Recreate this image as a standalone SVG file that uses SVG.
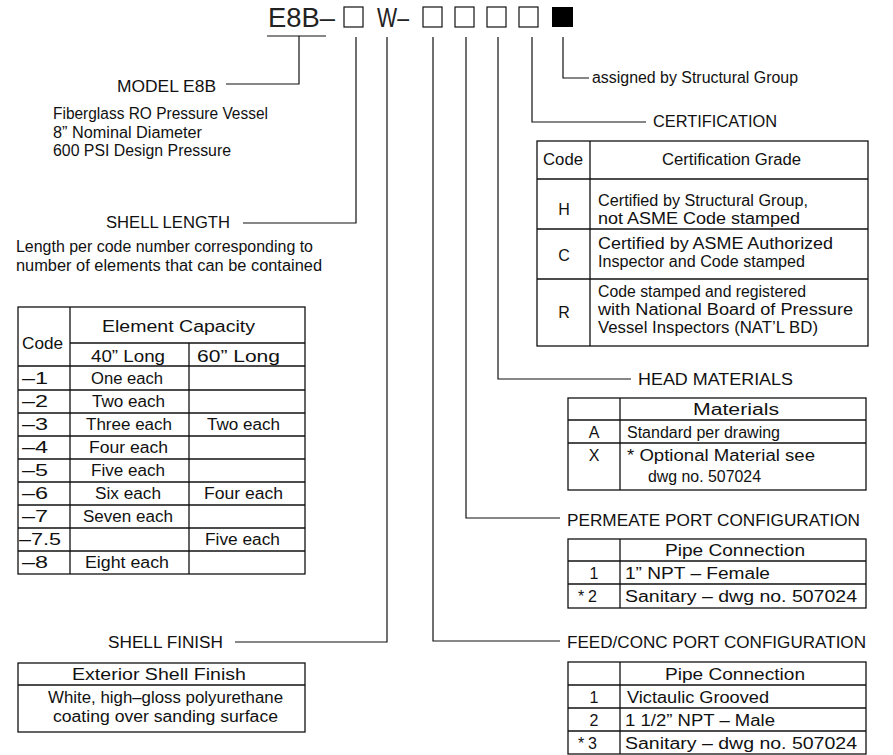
<svg xmlns="http://www.w3.org/2000/svg" width="893" height="755" viewBox="0 0 893 755">
<style>
text{font-family:"Liberation Sans",Arial,sans-serif;font-size:16px;fill:#111}
.big{font-size:27px;fill:#222}
.m{text-anchor:middle}
.ln{fill:none;stroke:#111;stroke-width:1.2}
.tb{fill:none;stroke:#111;stroke-width:1.3}
</style>
<rect width="893" height="755" fill="#fff"/>

<g id="model-code">
<text class="big" x="268" y="27" textLength="67" lengthAdjust="spacingAndGlyphs">E8B–</text>
<line class="ln" x1="267" y1="36" x2="326" y2="36"/>
<rect class="ln" x="344" y="7" width="19" height="20"/>
<text class="big" x="377" y="27" textLength="32" lengthAdjust="spacingAndGlyphs">W–</text>
<rect class="ln" x="423" y="7" width="19" height="20"/>
<rect class="ln" x="455" y="7" width="19" height="20"/>
<rect class="ln" x="487" y="7" width="19" height="20"/>
<rect class="ln" x="519" y="7" width="19" height="20"/>
<rect x="552" y="7" width="21" height="20" fill="#000"/>
</g>

<g id="connectors">
<polyline class="ln" points="299,36 299,84 226,84"/>
<polyline class="ln" points="356,37 356,223 243,223"/>
<polyline class="ln" points="387,37 387,642 235,642"/>
<polyline class="ln" points="433,37 433,641 560,641"/>
<polyline class="ln" points="466,37 466,518 560,518"/>
<polyline class="ln" points="498,37 498,379 631,379"/>
<polyline class="ln" points="532,37 532,122 646,122"/>
<polyline class="ln" points="563,37 563,78 589,78"/>
</g>

<g id="model">
<text x="117" y="92" textLength="99" lengthAdjust="spacingAndGlyphs">MODEL E8B</text>
<text x="53" y="119" textLength="215" lengthAdjust="spacingAndGlyphs">Fiberglass RO Pressure Vessel</text>
<text x="53" y="138" textLength="149" lengthAdjust="spacingAndGlyphs">8” Nominal Diameter</text>
<text x="53" y="156" textLength="178" lengthAdjust="spacingAndGlyphs">600 PSI Design Pressure</text>
</g>

<g id="shell-length">
<text x="106" y="228" textLength="124" lengthAdjust="spacingAndGlyphs">SHELL LENGTH</text>
<text x="16" y="252" textLength="297" lengthAdjust="spacingAndGlyphs">Length per code number corresponding to</text>
<text x="16" y="271" textLength="306" lengthAdjust="spacingAndGlyphs">number of elements that can be contained</text>
<g class="tb">
<rect x="18" y="307" width="287" height="267"/>
<line x1="70" y1="307" x2="70" y2="574"/>
<line x1="70" y1="343" x2="305" y2="343"/>
<line x1="189" y1="343" x2="189" y2="574"/>
<line x1="18" y1="366" x2="305" y2="366"/>
<line x1="18" y1="390" x2="305" y2="390"/>
<line x1="18" y1="413" x2="305" y2="413"/>
<line x1="18" y1="436" x2="305" y2="436"/>
<line x1="18" y1="459" x2="305" y2="459"/>
<line x1="18" y1="482" x2="305" y2="482"/>
<line x1="18" y1="505" x2="305" y2="505"/>
<line x1="18" y1="528" x2="305" y2="528"/>
<line x1="18" y1="551" x2="305" y2="551"/>
</g>
<text x="102" y="332" textLength="153" lengthAdjust="spacingAndGlyphs">Element Capacity</text>
<text x="22" y="349" textLength="41" lengthAdjust="spacingAndGlyphs">Code</text>
<text x="91" y="362" textLength="74" lengthAdjust="spacingAndGlyphs">40” Long</text>
<text x="197" y="362" textLength="83" lengthAdjust="spacingAndGlyphs">60” Long</text>
<text x="22" y="384" textLength="26" lengthAdjust="spacingAndGlyphs">–1</text>
<text x="22" y="407" textLength="26" lengthAdjust="spacingAndGlyphs">–2</text>
<text x="22" y="430" textLength="26" lengthAdjust="spacingAndGlyphs">–3</text>
<text x="22" y="453" textLength="26" lengthAdjust="spacingAndGlyphs">–4</text>
<text x="22" y="476" textLength="26" lengthAdjust="spacingAndGlyphs">–5</text>
<text x="22" y="499" textLength="26" lengthAdjust="spacingAndGlyphs">–6</text>
<text x="22" y="522" textLength="26" lengthAdjust="spacingAndGlyphs">–7</text>
<text x="19" y="545" textLength="42" lengthAdjust="spacingAndGlyphs">–7.5</text>
<text x="22" y="568" textLength="26" lengthAdjust="spacingAndGlyphs">–8</text>
<text x="91" y="384" textLength="72" lengthAdjust="spacingAndGlyphs">One each</text>
<text x="92" y="407" textLength="73" lengthAdjust="spacingAndGlyphs">Two each</text>
<text x="86" y="430" textLength="86" lengthAdjust="spacingAndGlyphs">Three each</text>
<text x="89" y="453" textLength="79" lengthAdjust="spacingAndGlyphs">Four each</text>
<text x="91" y="476" textLength="74" lengthAdjust="spacingAndGlyphs">Five each</text>
<text x="95" y="499" textLength="66" lengthAdjust="spacingAndGlyphs">Six each</text>
<text x="83" y="522" textLength="90" lengthAdjust="spacingAndGlyphs">Seven each</text>
<text x="85" y="568" textLength="84" lengthAdjust="spacingAndGlyphs">Eight each</text>
<text x="207" y="430" textLength="73" lengthAdjust="spacingAndGlyphs">Two each</text>
<text x="204" y="499" textLength="79" lengthAdjust="spacingAndGlyphs">Four each</text>
<text x="205" y="545" textLength="75" lengthAdjust="spacingAndGlyphs">Five each</text>
</g>

<g id="shell-finish">
<text x="108" y="648" textLength="115" lengthAdjust="spacingAndGlyphs">SHELL FINISH</text>
<g class="tb">
<rect x="18" y="663" width="287" height="69"/>
<line x1="18" y1="685" x2="305" y2="685"/>
</g>
<text x="72" y="680" textLength="174" lengthAdjust="spacingAndGlyphs">Exterior Shell Finish</text>
<text x="48" y="703" textLength="235" lengthAdjust="spacingAndGlyphs">White, high–gloss polyurethane</text>
<text x="53" y="722" textLength="225" lengthAdjust="spacingAndGlyphs">coating over sanding surface</text>
</g>

<g id="assigned">
<text x="592" y="83" textLength="206" lengthAdjust="spacingAndGlyphs">assigned by Structural Group</text>
</g>

<g id="certification">
<text x="653" y="127" textLength="124" lengthAdjust="spacingAndGlyphs">CERTIFICATION</text>
<g class="tb">
<rect x="537" y="141" width="331" height="205"/>
<line x1="590" y1="141" x2="590" y2="346"/>
<line x1="537" y1="179" x2="868" y2="179"/>
<line x1="537" y1="229" x2="868" y2="229"/>
<line x1="537" y1="279" x2="868" y2="279"/>
</g>
<text x="543" y="165" textLength="40" lengthAdjust="spacingAndGlyphs">Code</text>
<text x="662" y="165" textLength="139" lengthAdjust="spacingAndGlyphs">Certification Grade</text>
<text class="m" x="564" y="215">H</text>
<text x="598" y="206" textLength="210" lengthAdjust="spacingAndGlyphs">Certified by Structural Group,</text>
<text x="598" y="224" textLength="202" lengthAdjust="spacingAndGlyphs">not ASME Code stamped</text>
<text class="m" x="564" y="261">C</text>
<text x="598" y="249" textLength="235" lengthAdjust="spacingAndGlyphs">Certified by ASME Authorized</text>
<text x="598" y="267" textLength="207" lengthAdjust="spacingAndGlyphs">Inspector and Code stamped</text>
<text class="m" x="564" y="318">R</text>
<text x="598" y="297" textLength="208" lengthAdjust="spacingAndGlyphs">Code stamped and registered</text>
<text x="598" y="315" textLength="255" lengthAdjust="spacingAndGlyphs">with National Board of Pressure</text>
<text x="598" y="333" textLength="220" lengthAdjust="spacingAndGlyphs">Vessel Inspectors (NAT’L BD)</text>
</g>

<g id="head-materials">
<text x="638" y="385" textLength="155" lengthAdjust="spacingAndGlyphs">HEAD MATERIALS</text>
<g class="tb">
<rect x="568" y="398" width="298" height="92"/>
<line x1="620" y1="398" x2="620" y2="490"/>
<line x1="568" y1="420" x2="866" y2="420"/>
<line x1="568" y1="443" x2="866" y2="443"/>
</g>
<text x="693" y="415" textLength="86" lengthAdjust="spacingAndGlyphs">Materials</text>
<text class="m" x="594" y="438">A</text>
<text x="627" y="438" textLength="153" lengthAdjust="spacingAndGlyphs">Standard per drawing</text>
<text class="m" x="594" y="461">X</text>
<text x="627" y="461" textLength="188" lengthAdjust="spacingAndGlyphs">* Optional Material see</text>
<text x="648" y="482" textLength="113" lengthAdjust="spacingAndGlyphs">dwg no. 507024</text>
</g>

<g id="permeate">
<text x="567" y="526" textLength="293" lengthAdjust="spacingAndGlyphs">PERMEATE PORT CONFIGURATION</text>
<g class="tb">
<rect x="568" y="539" width="298" height="69"/>
<line x1="620" y1="539" x2="620" y2="608"/>
<line x1="568" y1="561" x2="866" y2="561"/>
<line x1="568" y1="584" x2="866" y2="584"/>
</g>
<text x="665" y="556" textLength="140" lengthAdjust="spacingAndGlyphs">Pipe Connection</text>
<text class="m" x="594" y="579">1</text>
<text x="625" y="579" textLength="145" lengthAdjust="spacingAndGlyphs">1” NPT – Female</text>
<text x="578" y="602" textLength="19" lengthAdjust="spacing">*2</text>
<text x="625" y="602" textLength="232" lengthAdjust="spacingAndGlyphs">Sanitary – dwg no. 507024</text>
</g>

<g id="feed-conc">
<text x="567" y="648" textLength="299" lengthAdjust="spacingAndGlyphs">FEED/CONC PORT CONFIGURATION</text>
<g class="tb">
<rect x="568" y="662" width="298" height="92"/>
<line x1="620" y1="662" x2="620" y2="754"/>
<line x1="568" y1="685" x2="866" y2="685"/>
<line x1="568" y1="708" x2="866" y2="708"/>
<line x1="568" y1="731" x2="866" y2="731"/>
</g>
<text x="665" y="680" textLength="140" lengthAdjust="spacingAndGlyphs">Pipe Connection</text>
<text class="m" x="594" y="703">1</text>
<text x="627" y="703" textLength="142" lengthAdjust="spacingAndGlyphs">Victaulic Grooved</text>
<text class="m" x="594" y="726">2</text>
<text x="625" y="726" textLength="150" lengthAdjust="spacingAndGlyphs">1 1/2” NPT – Male</text>
<text x="578" y="749" textLength="19" lengthAdjust="spacing">*3</text>
<text x="625" y="749" textLength="232" lengthAdjust="spacingAndGlyphs">Sanitary – dwg no. 507024</text>
</g>
</svg>
